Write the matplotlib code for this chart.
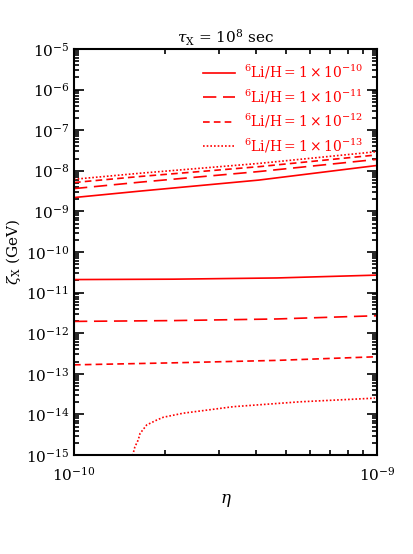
import matplotlib
matplotlib.use("Agg")
import matplotlib.pyplot as plt
from matplotlib.ticker import LogLocator, NullFormatter
import numpy as np

plt.rcParams["font.family"] = "DejaVu Serif"
plt.rcParams["mathtext.fontset"] = "custom"
plt.rcParams["mathtext.rm"] = "DejaVu Serif"
plt.rcParams["mathtext.it"] = "DejaVu Serif:italic"
plt.rcParams["mathtext.bf"] = "DejaVu Serif:bold"

# eta and zeta_X values (log10)
eta_hi = [-10.0, -9.78, -9.39, -9.0]
# upper group (branch 1)
zeta_hi = {
    "1e-10": [-8.66, -8.50, -8.23, -7.87],
    "1e-11": [-8.44, -8.28, -8.02, -7.72],
    "1e-12": [-8.29, -8.14, -7.90, -7.61],
    "1e-13": [-8.21, -8.06, -7.82, -7.53],
}

# lower group (branch 2)
eta_lo = [-10.0, -9.67, -9.33, -9.0]
zeta_lo = {
    "1e-10": [-10.68, -10.67, -10.64, -10.57],
    "1e-11": [-11.71, -11.69, -11.65, -11.57],
    "1e-12": [-12.78, -12.73, -12.67, -12.58],
}
eta_lo13 = [-9.81, -9.806, -9.799, -9.788, -9.782, -9.760, -9.727, -9.705,
            -9.639, -9.474, -9.254, -9.007]
zeta_lo13 = [-15.10, -15.0, -14.80, -14.63, -14.47, -14.26, -14.14, -14.07,
             -13.97, -13.81, -13.69, -13.60]

labels = {
    "1e-10": r"$^{6}$Li/H$=1\times10^{-10}$",
    "1e-11": r"$^{6}$Li/H$=1\times10^{-11}$",
    "1e-12": r"$^{6}$Li/H$=1\times10^{-12}$",
    "1e-13": r"$^{6}$Li/H$=1\times10^{-13}$",
}
styles = {
    "1e-10": "-",
    "1e-11": (0, (8, 4)),
    "1e-12": (0, (4, 2.5)),
    "1e-13": (0, (1, 1.2)),
}

fig = plt.figure(figsize=(4.14, 5.54), dpi=100)
ax = fig.add_axes([0.1787, 0.1787, 0.7319, 0.733])

for key in zeta_hi:
    ax.plot(10 ** np.array(eta_hi), 10 ** np.array(zeta_hi[key]), color="red",
            lw=1.2, linestyle=styles[key], label=labels[key])
for key in zeta_lo:
    ax.plot(10 ** np.array(eta_lo), 10 ** np.array(zeta_lo[key]), color="red",
            lw=1.2, linestyle=styles[key])
ax.plot(10 ** np.array(eta_lo13), 10 ** np.array(zeta_lo13), color="red",
        lw=1.2, linestyle=styles["1e-13"])

ax.set_xscale("log")
ax.set_yscale("log")
ax.set_xlim(1e-10, 1e-9)
ax.set_ylim(1e-15, 1e-5)

ax.yaxis.set_major_locator(LogLocator(base=10, numticks=20))
ax.yaxis.set_minor_locator(LogLocator(base=10, subs=np.arange(2, 10), numticks=20))
ax.yaxis.set_minor_formatter(NullFormatter())
ax.xaxis.set_minor_formatter(NullFormatter())

ax.tick_params(which="both", direction="in", top=True, right=True, labelsize=11,
               width=1.2)
ax.tick_params(which="major", length=7)
ax.tick_params(which="minor", length=3.5)
ax.tick_params(axis="x", pad=8)
for s in ax.spines.values():
    s.set_linewidth(1.5)

ax.set_xlabel(r"$\mathit{\eta}$", fontsize=12, labelpad=6)
ax.set_ylabel(r"$\mathit{\zeta}_{\rm X}$ (GeV)", fontsize=11, labelpad=2)
ax.set_title(r"$\mathit{\tau}_{\rm X}$ = 10$^{8}$ sec", fontsize=11, pad=4)

ax.legend(loc="upper right", frameon=False, fontsize=10, labelcolor="red",
          handlelength=2.3, handletextpad=0.6, labelspacing=0.45,
          borderaxespad=0.6)

fig.savefig("out.png", dpi=100)
